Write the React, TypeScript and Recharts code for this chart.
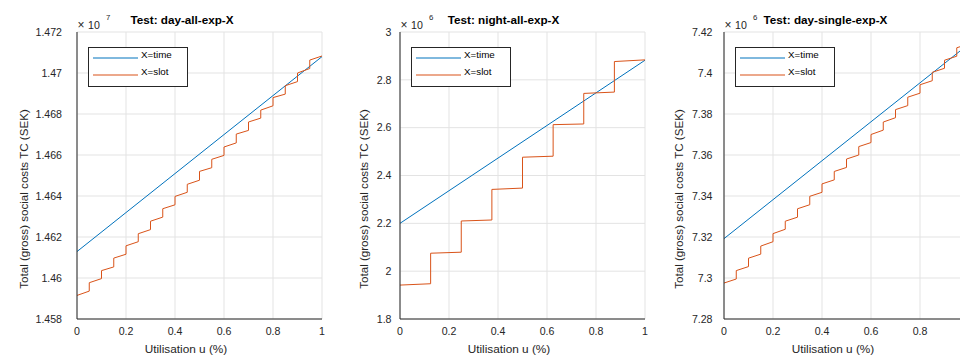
import React from 'react';
import { LineChart, Line, XAxis, YAxis, CartesianGrid } from 'recharts';

const FONT = '"Liberation Sans", Arial, Helvetica, sans-serif';
const BLUE = '#0072BD';
const ORANGE = '#D95319';
const AXIS = '#262626';

const xTicks = [0, 0.2, 0.4, 0.6, 0.8, 1];
const timeU = [0, 1];
const seriesNames = ['X=time', 'X=slot'];
const yLabelText = 'Total (gross) social costs TC (SEK)';
const xLabelText = 'Utilisation u (%)';

// Panel 1: day-all-exp-X (x10^7)
const dayAllTime = [1.46129, 1.4708];
const dayAllSlotU = [0, 0.05, 0.1, 0.15, 0.2, 0.25, 0.3, 0.35, 0.4, 0.45, 0.5, 0.55, 0.6, 0.65, 0.7, 0.75, 0.8, 0.85, 0.9, 0.95, 1];
const dayAllSlotStart = [1.45915, 1.45977, 1.46036, 1.46097, 1.46157, 1.46216, 1.46277, 1.46338, 1.46398, 1.46457, 1.4652, 1.46579, 1.46639, 1.46702, 1.46761, 1.46819, 1.4688, 1.46938, 1.47, 1.47063];
const dayAllSlotEnd = [1.45936, 1.45997, 1.46054, 1.46116, 1.46177, 1.46236, 1.46297, 1.46357, 1.46418, 1.46477, 1.46538, 1.46598, 1.46659, 1.4672, 1.4678, 1.4684, 1.46897, 1.46958, 1.47022, 1.47083];
const dayAllTicks = [1.458, 1.46, 1.462, 1.464, 1.466, 1.468, 1.47, 1.472];

// Panel 2: night-all-exp-X (x10^6)
const nightAllTime = [2.2, 2.882];
const nightAllSlotU = [0, 0.125, 0.25, 0.375, 0.5, 0.625, 0.75, 0.875, 1];
const nightAllSlotStart = [1.9418, 2.0751, 2.2098, 2.3418, 2.4765, 2.6126, 2.7432, 2.8765];
const nightAllSlotEnd = [1.9474, 2.0793, 2.214, 2.3474, 2.4807, 2.6154, 2.7488, 2.8835];
const nightAllTicks = [1.8, 2, 2.2, 2.4, 2.6, 2.8, 3];

// Panel 3: day-single-exp-X (x10^6)
const daySingleTime = [7.3192, 7.4142];
const daySingleSlotU = [0, 0.05, 0.1, 0.15, 0.2, 0.25, 0.3, 0.35, 0.4, 0.45, 0.5, 0.55, 0.6, 0.65, 0.7, 0.75, 0.8, 0.85, 0.9, 0.95, 1];
const daySingleSlotStart = [7.29754, 7.30361, 7.30967, 7.31557, 7.32164, 7.3277, 7.33377, 7.33984, 7.3459, 7.35197, 7.35803, 7.3641, 7.37, 7.37607, 7.38213, 7.3882, 7.39426, 7.40033, 7.40623, 7.4123];
const daySingleSlotEnd = [7.29951, 7.30557, 7.31164, 7.3177, 7.32377, 7.32967, 7.33574, 7.3418, 7.34787, 7.35393, 7.36, 7.36607, 7.37213, 7.3782, 7.3841, 7.39016, 7.39623, 7.4023, 7.4082, 7.41426];
const daySingleTicks = [7.28, 7.3, 7.32, 7.34, 7.36, 7.38, 7.4, 7.42];

const PL = 77; // plot left within a panel
const PT = 32;
const CW = 330;

type PanelProps = {
  left: number;
  title: string;
  titleCx: number;
  exp: string;
  yTicks: number[];
  timeVals: number[];
  slotU: number[];
  slotStart: number[];
  slotEnd: number[];
  yTickMargin: number;
  yLabelX: number;
  hideLastXLabel?: boolean;
};

const fmt = (v: number) => String(Number(v.toFixed(4)));

function Panel(p: PanelProps) {
  const timeData = timeU.map((u, i) => ({ x: u, y: p.timeVals[i] }));
  const slotData: { x: number; y: number }[] = [];
  for (let k = 0; k < p.slotStart.length; k++) {
    slotData.push({ x: p.slotU[k], y: p.slotStart[k] });
    slotData.push({ x: p.slotU[k + 1], y: p.slotEnd[k] });
  }
  const yDomain = [p.yTicks[0], p.yTicks[p.yTicks.length - 1]];
  const xFmt = (v: number) => (p.hideLastXLabel && v === 1 ? '' : fmt(v));
  return (
    <div style={{ position: 'absolute', left: p.left, top: 0, width: CW, height: 356 }}>
      <LineChart width={CW} height={356} margin={{ top: PT, right: 8, bottom: 0, left: 0 }}>
        <CartesianGrid stroke="#e3e3e3" strokeWidth={1} />
        <XAxis
          dataKey="x"
          type="number"
          domain={[0, 1]}
          ticks={xTicks}
          interval={0}
          height={37}
          tickLine={false}
          tickSize={0}
          tickMargin={8}
          allowDataOverflow
          axisLine={{ stroke: AXIS, strokeWidth: 1 }}
          tick={{ fill: AXIS, fontSize: 10.6, fontFamily: FONT }}
          tickFormatter={xFmt}
        />
        <YAxis
          type="number"
          domain={yDomain}
          ticks={p.yTicks}
          interval={0}
          width={PL}
          tickLine={false}
          tickSize={0}
          tickMargin={p.yTickMargin}
          allowDataOverflow
          axisLine={{ stroke: AXIS, strokeWidth: 1 }}
          tick={{ fill: AXIS, fontSize: 10.6, fontFamily: FONT }}
          tickFormatter={fmt}
        />
        <Line data={timeData} dataKey="y" type="linear" dot={false} activeDot={false} stroke={BLUE} strokeWidth={1} isAnimationActive={false} />
        <Line data={slotData} dataKey="y" type="linear" dot={false} activeDot={false} stroke={ORANGE} strokeWidth={1} isAnimationActive={false} />
      </LineChart>
      <svg width={CW} height={356} style={{ position: 'absolute', left: 0, top: 0, pointerEvents: 'none' }} fontFamily={FONT}>
        <text x={PL + p.titleCx} y={24} textAnchor="middle" fontSize={11.7} fontWeight="bold" fill="#000">{p.title}</text>
        <text x={PL + 0.5} y={28.5} fontSize={12} fill={AXIS}>×</text>
        <text x={PL + 11} y={28.5} fontSize={10.6} fill={AXIS}>10</text>
        <text x={PL + 29} y={19.5} fontSize={7.8} fill={AXIS}>{p.exp}</text>
        <text x={PL + 109} y={353} textAnchor="middle" fontSize={11.8} fill={AXIS}>{xLabelText}</text>
        <text
          x={p.yLabelX}
          y={199}
          textAnchor="middle"
          dominantBaseline="central"
          fontSize={11.6}
          fill={AXIS}
          transform={`rotate(-90 ${p.yLabelX} 199)`}
        >
          {yLabelText}
        </text>
        <rect x={PL + 11.5} y={47.5} width={99} height={39} fill="#fff" stroke={AXIS} strokeWidth={1} />
        <line x1={PL + 16} x2={PL + 61} y1={58} y2={58} stroke={BLUE} strokeWidth={1} />
        <line x1={PL + 16} x2={PL + 61} y1={75} y2={75} stroke={ORANGE} strokeWidth={1.2} />
        <text x={PL + 64} y={57.5} fontSize={9.8} fill="#000">{seriesNames[0]}</text>
        <text x={PL + 64} y={74.5} fontSize={9.8} fill="#000">{seriesNames[1]}</text>
      </svg>
    </div>
  );
}

export default function App() {
  return (
    <div style={{ position: 'absolute', left: 0, top: 0, width: 960, height: 356, overflow: 'hidden', background: '#fff' }}>
      <Panel
        left={0}
        title="Test: day-all-exp-X"
        titleCx={105}
        exp="7"
        yTicks={dayAllTicks}
        timeVals={dayAllTime}
        slotU={dayAllSlotU}
        slotStart={dayAllSlotStart}
        slotEnd={dayAllSlotEnd}
        yTickMargin={15}
        yLabelX={23}
      />
      <Panel
        left={323}
        title="Test: night-all-exp-X"
        titleCx={103.5}
        exp="6"
        yTicks={nightAllTicks}
        timeVals={nightAllTime}
        slotU={nightAllSlotU}
        slotStart={nightAllSlotStart}
        slotEnd={nightAllSlotEnd}
        yTickMargin={8.5}
        yLabelX={40.5}
      />
      <Panel
        left={647}
        title="Test: day-single-exp-X"
        titleCx={101.5}
        exp="6"
        yTicks={daySingleTicks}
        timeVals={daySingleTime}
        slotU={daySingleSlotU}
        slotStart={daySingleSlotStart}
        slotEnd={daySingleSlotEnd}
        yTickMargin={11.5}
        yLabelX={31}
        hideLastXLabel
      />
    </div>
  );
}
